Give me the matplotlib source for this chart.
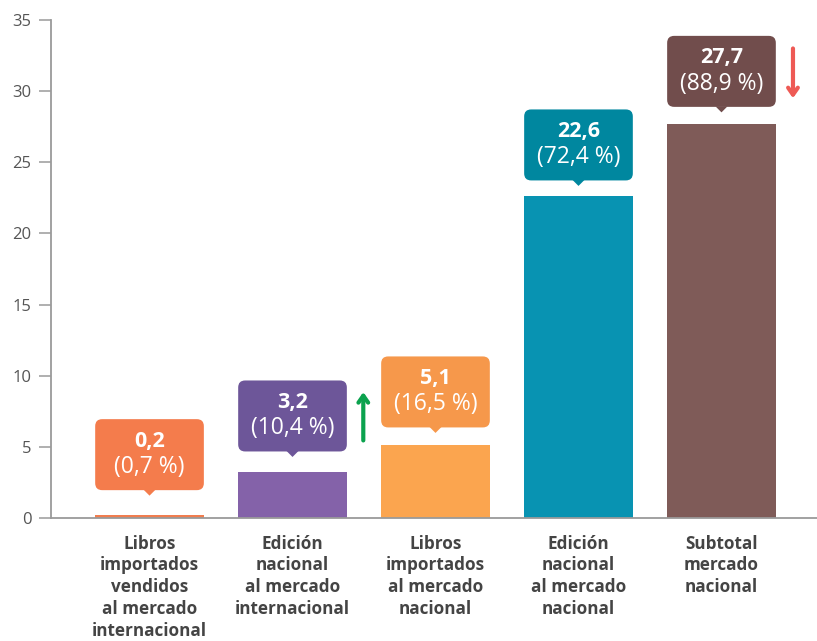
import matplotlib
matplotlib.use("Agg")
import matplotlib.pyplot as plt
from matplotlib.patches import FancyBboxPatch, Polygon

categories = [
    "Libros\nimportados\nvendidos\nal mercado\ninternacional",
    "Edición\nnacional\nal mercado\ninternacional",
    "Libros\nimportados\nal mercado\nnacional",
    "Edición\nnacional\nal mercado\nnacional",
    "Subtotal\nmercado\nnacional",
]
values = [0.2, 3.2, 5.1, 22.6, 27.7]
value_labels = ["0,2", "3,2", "5,1", "22,6", "27,7"]
pct_labels = ["(0,7 %)", "(10,4 %)", "(16,5 %)", "(72,4 %)", "(88,9 %)"]
yticks = [0, 5, 10, 15, 20, 25, 30, 35]

bar_colors = ["#F07D4F", "#8462A9", "#FBA54F", "#0893B2", "#7F5B58"]
box_colors = ["#F47C4C", "#6D5699", "#F6984B", "#00879F", "#714D4C"]
label_gap_px = [25, 21, 18, 16, 17]   # callout offset above bar (style)

plt.rcParams['font.family'] = ['Open Sans', 'DejaVu Sans']

fig = plt.figure(figsize=(8.17, 6.41), dpi=100)
ax = fig.add_axes([51/817, 1-518/641, 1-51/817, (518-20)/641])

x = list(range(len(values)))
bw = 0.76
ax.bar(x, values, width=bw, color=bar_colors, zorder=2)

ax.set_xlim(-0.689, 4.668)
ax.set_ylim(0, 35)

px_x = 1/143.0
px_y = 35/498.0
aspect = px_y/px_x

for i, v in enumerate(values):
    yb = v + label_gap_px[i]*px_y
    h = 71*px_y
    box = FancyBboxPatch((i - bw/2, yb), bw, h,
                         boxstyle="round,pad=0,rounding_size=%f" % (7*px_x),
                         mutation_aspect=aspect,
                         facecolor=box_colors[i], edgecolor='none', zorder=3,
                         clip_on=False)
    ax.add_patch(box)
    tri = Polygon([(i - 6*px_x, yb + 0.5*px_y), (i + 6*px_x, yb + 0.5*px_y), (i, yb - 5.5*px_y)],
                  closed=True, facecolor=box_colors[i], edgecolor='none', zorder=3)
    ax.add_patch(tri)
    ax.text(i, yb + h - 22*px_y, value_labels[i], ha='center', va='center',
            color='white', fontsize=15.5, fontweight='bold', zorder=4)
    ax.text(i, yb + h - 48*px_y, pct_labels[i], ha='center', va='center',
            color='white', fontsize=16.5, zorder=4)

# trend arrows
ax.annotate("", xy=(1.495, 8.85), xytext=(1.495, 5.45),
            arrowprops=dict(arrowstyle="->,head_length=0.5,head_width=0.35",
                            color="#0BA24E", lw=3, shrinkA=0, shrinkB=0), zorder=4)
ax.annotate("", xy=(4.5, 29.5), xytext=(4.5, 33.0),
            arrowprops=dict(arrowstyle="->,head_length=0.5,head_width=0.35",
                            color="#EE5A55", lw=3, shrinkA=0, shrinkB=0),
            annotation_clip=False, zorder=4)

for s in ['top', 'right']:
    ax.spines[s].set_visible(False)
for s in ['left', 'bottom']:
    ax.spines[s].set_color('#9a9a9a')
    ax.spines[s].set_linewidth(1.3)

ax.set_yticks(yticks)
ax.set_yticklabels([str(t) for t in yticks], fontsize=12, color='#555555')
ax.tick_params(axis='y', length=9, width=1.1, color='#9a9a9a', pad=5)
ax.set_xticks(x)
ax.set_xticklabels(categories, fontsize=12.3, fontweight='bold', color='#444444',
                   linespacing=1.27)
ax.tick_params(axis='x', length=0, pad=12)

fig.savefig("out.png", dpi=100)
